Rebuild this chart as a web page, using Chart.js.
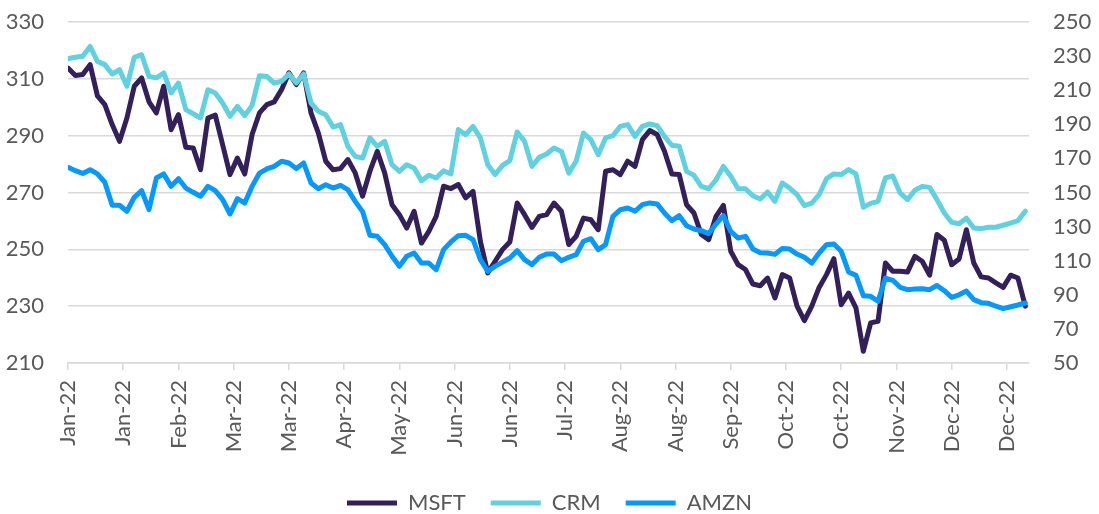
<!DOCTYPE html>
<html>
<head>
<meta charset="utf-8">
<script src="https://cdn.jsdelivr.net/npm/chart.js@4"></script>
<style>
  html, body { margin: 0; padding: 0; background: #fff; overflow: hidden; }
</style>
</head>
<body>
<canvas id="chart" width="1099" height="514"></canvas>
<script>
// x labels, one every 15 trading days
const tickLabels = ["Jan-22", "Jan-22", "Feb-22", "Mar-22", "Mar-22", "Apr-22", "May-22", "Jun-22", "Jun-22",
  "Jul-22", "Aug-22", "Aug-22", "Sep-22", "Oct-22", "Oct-22", "Nov-22", "Dec-22", "Dec-22"];

// readings every 2nd trading day (left axis)
const msft = [313.8, 311.2, 311.5, 315.0, 304.0, 300.9, 293.9, 288.0, 296.2, 307.4,
  310.3, 301.9, 298.0, 307.4, 292.1, 297.4, 285.9, 285.7, 278.0, 296.2,
  297.2, 286.8, 276.3, 282.1, 276.5, 290.4, 298.0, 300.9, 301.9, 306.2,
  312.1, 308.0, 312.1, 298.0, 290.9, 281.0, 278.0, 278.4, 281.6, 276.9,
  268.7, 277.5, 284.5, 276.9, 265.7, 262.2, 257.5, 263.4, 252.2, 256.3,
  261.6, 272.2, 271.4, 272.8, 268.1, 270.4, 252.8, 241.7, 245.8, 249.9,
  252.6, 266.3, 262.2, 257.7, 261.6, 262.2, 266.3, 263.4, 251.7, 254.6,
  261.0, 260.4, 256.9, 277.5, 278.0, 276.3, 281.0, 279.2, 288.6, 291.8,
  290.4, 284.5, 276.5, 276.3, 265.7, 262.8, 255.2, 253.4, 261.6, 265.5,
  249.3, 244.6, 242.9, 237.8, 237.2, 239.9, 232.9, 241.1, 239.9, 230.0,
  224.9, 230.0, 236.6, 241.1, 246.7, 230.5, 234.6, 229.4, 214.1, 224.1,
  224.7, 245.2, 242.3, 242.3, 242.0, 247.5, 245.8, 240.9, 255.2, 253.2,
  244.6, 246.6, 256.9, 245.2, 240.3, 239.9, 238.2, 236.6, 240.9, 239.9,
  230.0];

// right axis
const crm = [228.5, 229.3, 229.9, 235.7, 226.9, 225.0, 219.5, 222.0, 212.3, 229.3,
  230.8, 218.1, 217.2, 220.1, 208.4, 214.2, 198.6, 196.2, 193.7, 210.3,
  208.4, 202.5, 194.7, 200.5, 195.1, 201.1, 218.5, 218.1, 214.2, 215.2,
  219.5, 214.2, 219.5, 202.5, 197.6, 195.6, 188.4, 189.8, 177.1, 171.2,
  170.2, 182.0, 177.1, 180.0, 166.3, 162.4, 166.3, 164.4, 156.9, 160.1,
  158.5, 162.8, 160.9, 186.9, 183.9, 188.8, 182.0, 166.3, 160.5, 165.9,
  168.7, 185.5, 180.0, 165.3, 170.6, 172.6, 176.1, 174.1, 161.4, 168.3,
  184.9, 181.0, 172.2, 182.0, 183.3, 188.8, 189.8, 182.9, 188.8, 190.2,
  189.2, 182.9, 177.7, 177.1, 162.4, 160.1, 153.6, 152.2, 157.5, 165.3,
  159.5, 152.2, 152.2, 148.1, 146.2, 150.3, 144.8, 155.6, 152.6, 148.7,
  142.3, 143.8, 148.7, 158.1, 160.9, 160.5, 163.4, 160.9, 141.3, 143.6,
  144.8, 158.5, 159.7, 149.7, 145.8, 151.3, 153.6, 153.0, 145.8, 138.0,
  132.5, 131.7, 134.9, 129.2, 128.8, 129.6, 129.6, 130.8, 132.1, 133.5,
  139.0];

const amzn = [164.8, 162.8, 161.2, 163.4, 160.9, 156.0, 142.5, 142.5, 139.0, 147.2,
  151.1, 140.0, 158.5, 160.9, 153.6, 158.1, 152.6, 150.1, 147.8, 153.6,
  151.1, 145.8, 137.4, 146.4, 143.8, 153.6, 161.4, 163.8, 165.3, 168.3,
  167.3, 164.0, 167.3, 155.6, 152.2, 154.6, 152.6, 154.2, 151.7, 144.8,
  138.8, 124.9, 124.3, 119.4, 112.6, 106.7, 112.6, 114.5, 108.6, 108.6,
  104.7, 116.5, 121.0, 124.7, 124.9, 122.3, 110.6, 103.8, 106.7, 109.2,
  111.6, 115.9, 110.6, 107.7, 112.0, 113.9, 113.9, 110.0, 112.0, 113.5,
  121.4, 122.9, 116.5, 119.4, 136.0, 139.9, 140.9, 139.0, 142.9, 143.9,
  143.3, 138.0, 133.5, 136.4, 130.5, 128.6, 127.6, 125.9, 131.5, 136.4,
  127.2, 123.3, 124.3, 116.8, 114.7, 114.5, 113.7, 117.2, 116.8, 113.9,
  112.0, 108.6, 114.5, 119.4, 119.8, 115.5, 103.4, 101.4, 89.5, 89.1,
  86.2, 99.8, 98.5, 94.4, 93.0, 93.4, 93.6, 93.0, 95.5, 92.4,
  88.5, 90.0, 92.2, 87.2, 85.4, 85.0, 83.3, 81.9, 83.0, 84.0,
  85.2];

const STEP = 2;        // trading days between readings
const TICK_EVERY = 15; // trading days between x labels
const LAST_DAY = 261;

const grey = "#595959";
const gridGrey = "#d9d9d9";
const font = { family: "Lato", size: 22 };

function toPoints(values) {
  return values.map((v, i) => ({ x: i * STEP, y: v }));
}

function lineSet(label, values, color, axis, order) {
  return {
    label: label,
    data: toPoints(values),
    borderColor: color,
    backgroundColor: color,
    borderWidth: 5,
    borderCapStyle: "round",
    borderJoinStyle: "round",
    pointRadius: 0,
    tension: 0,
    yAxisID: axis,
    order: order,
  };
}

// fixed side width, and no extra top/bottom room for the tick labels
function fitSide(width) {
  return (s) => {
    s.width = width;
    s.paddingTop = 0;
    s.paddingBottom = 0;
  };
}

new Chart(document.getElementById("chart"), {
  type: "line",
  data: {
    datasets: [
      lineSet("MSFT", msft, "#33205a", "y", 2),
      lineSet("CRM", crm, "#5fd1df", "y1", 1),
      lineSet("AMZN", amzn, "#0499fd", "y1", 0),
    ],
  },
  options: {
    responsive: false,
    animation: false,
    layout: { padding: { top: 22, left: 0, right: 0, bottom: 0 } },
    plugins: {
      legend: {
        position: "bottom",
        maxHeight: 47,
        labels: {
          usePointStyle: true,
          pointStyle: "line",
          pointStyleWidth: 50,
          padding: 25,
          color: grey,
          font: font,
          sort: (a, b) => a.datasetIndex - b.datasetIndex,
        },
      },
      tooltip: { enabled: false },
    },
    scales: {
      x: {
        type: "linear",
        min: 0,
        max: LAST_DAY,
        afterFit: (s) => { s.height = 104; },
        grid: { drawOnChartArea: false, color: gridGrey, lineWidth: 1.5, tickLength: 7 },
        border: { color: gridGrey, width: 1.5 },
        ticks: {
          stepSize: TICK_EVERY,
          includeBounds: false,
          autoSkip: false,
          minRotation: 90,
          maxRotation: 90,
          padding: 10,
          color: grey,
          font: font,
          callback: (v) => tickLabels[v / TICK_EVERY],
        },
      },
      y: {
        position: "left",
        min: 210,
        max: 330,
        afterFit: fitSide(68),
        grid: { color: gridGrey, lineWidth: 1.5, drawTicks: false },
        border: { display: false },
        ticks: { stepSize: 20, padding: 24, color: grey, font: font },
      },
      y1: {
        position: "right",
        min: 50,
        max: 250,
        afterFit: fitSide(70),
        grid: { drawOnChartArea: false, drawTicks: false },
        border: { display: false },
        ticks: { stepSize: 20, padding: 24, color: grey, font: font },
      },
    },
  },
});
</script>
</body>
</html>
